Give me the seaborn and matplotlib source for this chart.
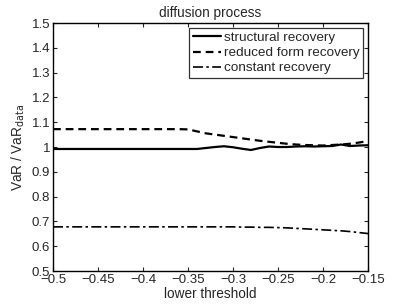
import numpy as np
import matplotlib
matplotlib.use("Agg")
import matplotlib.pyplot as plt
import seaborn as sns

# lower threshold grid
threshold = [-0.50, -0.49, -0.48, -0.47, -0.46, -0.45, -0.44, -0.43, -0.42, -0.41,
             -0.40, -0.39, -0.38, -0.37, -0.36, -0.35, -0.34, -0.33, -0.32, -0.31,
             -0.30, -0.29, -0.28, -0.27, -0.26, -0.25, -0.24, -0.23, -0.22, -0.21,
             -0.20, -0.19, -0.18, -0.17, -0.16, -0.15]

structural = [0.992, 0.992, 0.992, 0.992, 0.992, 0.992, 0.992, 0.992, 0.992, 0.992,
              0.992, 0.992, 0.992, 0.992, 0.992, 0.992, 0.992, 0.996, 1.000, 1.003,
              0.999, 0.993, 0.988, 0.996, 1.002, 1.000, 1.000, 1.002, 1.003, 1.002,
              1.003, 1.004, 1.010, 1.004, 1.006, 1.007]

reduced_form = [1.072, 1.072, 1.072, 1.072, 1.072, 1.072, 1.072, 1.072, 1.072, 1.072,
                1.072, 1.072, 1.072, 1.072, 1.072, 1.071, 1.063, 1.055, 1.050, 1.045,
                1.040, 1.035, 1.030, 1.025, 1.021, 1.017, 1.013, 1.010, 1.008, 1.007,
                1.006, 1.008, 1.010, 1.013, 1.018, 1.024]

constant = [0.678, 0.678, 0.678, 0.678, 0.678, 0.678, 0.678, 0.678, 0.678, 0.678,
            0.678, 0.678, 0.678, 0.678, 0.678, 0.678, 0.678, 0.678, 0.678, 0.678,
            0.678, 0.677, 0.677, 0.676, 0.676, 0.675, 0.674, 0.672, 0.670, 0.668,
            0.666, 0.664, 0.662, 0.659, 0.655, 0.651]

sns.set_style("ticks")
plt.rcParams["font.family"] = ["Liberation Sans", "DejaVu Sans"]
plt.rcParams["xtick.direction"] = "in"
plt.rcParams["ytick.direction"] = "in"

fig = plt.figure(figsize=(4.07, 3.06), dpi=100)
ax = fig.add_axes([53 / 407, 1 - 271 / 306, 315 / 407, 248 / 306])

sns.lineplot(x=threshold, y=structural, ax=ax, color="black", lw=1.6,
             linestyle="-", label="structural recovery")
sns.lineplot(x=threshold, y=reduced_form, ax=ax, color="black", lw=1.6,
             linestyle=(0, (3.5, 2.2)), label="reduced form recovery")
sns.lineplot(x=threshold, y=constant, ax=ax, color="black", lw=1.2,
             linestyle=(0, (6, 2, 1.5, 2)), label="constant recovery")

ax.set_xlim(-0.5, -0.15)
ax.set_ylim(0.5, 1.5)
ax.set_xticks(np.arange(-0.5, -0.149, 0.05))
ax.set_yticks(np.arange(0.5, 1.501, 0.1))
ax.set_xticklabels(["\u22120.5", "\u22120.45", "\u22120.4", "\u22120.35", "\u22120.3",
                    "\u22120.25", "\u22120.2", "\u22120.15"])
ax.set_yticklabels(["0.5", "0.6", "0.7", "0.8", "0.9", "1", "1.1", "1.2", "1.3",
                    "1.4", "1.5"])
ax.tick_params(labelsize=9.5, length=3, width=0.8, top=True, right=True, pad=2)
for sp in ax.spines.values():
    sp.set_visible(True)
    sp.set_linewidth(1.0)
    sp.set_color("black")

ax.set_title("diffusion process", fontsize=9.8, pad=4)
ax.set_xlabel("lower threshold", fontsize=9.8, labelpad=1)
ax.set_ylabel("VaR / VaR$_{\\mathrm{data}}$", fontsize=9.8, labelpad=3)

leg = ax.legend(loc="upper right", fontsize=9.7, frameon=True, fancybox=False,
                handlelength=2.1, handletextpad=0.2, borderpad=0.25,
                labelspacing=0.2, borderaxespad=0.4)
leg.get_frame().set_edgecolor("black")
leg.get_frame().set_linewidth(0.9)

fig.savefig("out.png", dpi=100)
